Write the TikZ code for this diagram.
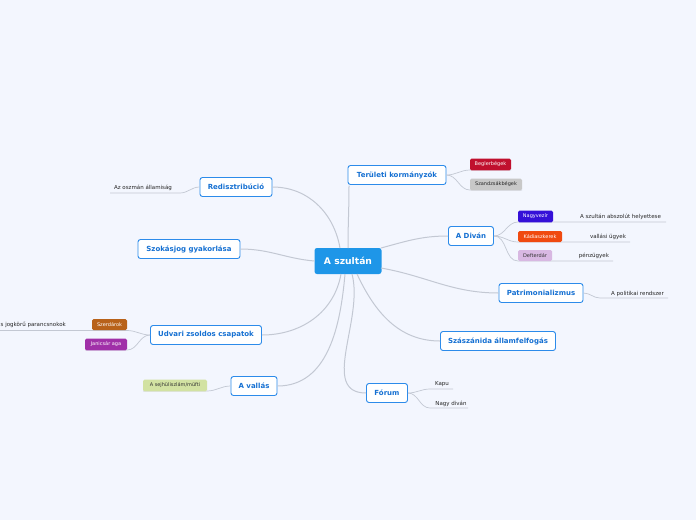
\documentclass[tikz,border=0pt]{standalone}
\usepackage{fontspec}
\setmainfont{DejaVu Sans}
\definecolor{bg}{HTML}{F3F6FE}
\definecolor{lcol}{HTML}{C3C8D3}
\definecolor{mblue}{HTML}{2C8BEA}
\definecolor{mtext}{HTML}{1570D2}
\definecolor{cfill}{HTML}{1E96E8}
\definecolor{cred}{HTML}{C0102E}
\definecolor{cgrey}{HTML}{C8C8C8}
\definecolor{cviol}{HTML}{3510D8}
\definecolor{corange}{HTML}{F04A10}
\definecolor{clil}{HTML}{D8B8E2}
\definecolor{cbrown}{HTML}{B8621A}
\definecolor{cmag}{HTML}{A030A8}
\definecolor{cgreen}{HTML}{D2E2A2}
\tikzset{
  mainbox/.style={draw=mblue, fill=white, rounded corners=2.5pt, line width=0.9pt, text=mtext,
    font=\bfseries\fontsize{7}{8}\selectfont, minimum height=19pt, inner xsep=1pt},
  centerbox/.style={fill=cfill, rounded corners=2.5pt, text=white,
    font=\bfseries\fontsize{9.2}{10}\selectfont, minimum height=26pt, minimum width=67pt},
  tagbox/.style={rounded corners=1.5pt, font=\fontsize{5}{6}\selectfont, minimum height=11pt, inner xsep=1pt, text=white},
  lbl/.style={font=\fontsize{5.5}{6}\selectfont, text=black!85, inner sep=0pt},
  conn/.style={draw=lcol, line width=1pt},
  subconn/.style={draw=lcol, line width=0.7pt},
}
\begin{document}
\begin{tikzpicture}[x=1pt,y=-1pt]
\fill[bg] (0,0) rectangle (696,520);
\useasboundingbox (0,0) rectangle (696,520);

% main nodes
\node[centerbox] (c) at (348,261) {A szultán};
\node[mainbox, minimum width=98pt] (ter) at (397,175) {Területi kormányzók};
\node[mainbox, minimum width=72pt] (red) at (236,187) {Redisztribúció};
\node[mainbox, minimum width=102pt] (szo) at (189,249) {Szokásjog gyakorlása};
\node[mainbox, minimum width=111pt] (udv) at (206,335) {Udvari zsoldos csapatok};
\node[mainbox, minimum width=46pt] (val) at (254,386) {A vallás};
\node[mainbox, minimum width=41pt] (for) at (387,393) {Fórum};
\node[mainbox, minimum width=115pt] (sza) at (498,341) {Szászánida államfelfogás};
\node[mainbox, minimum width=84pt] (pat) at (541,293) {Patrimonializmus};
\node[mainbox, minimum width=45pt] (div) at (471,236) {A Diván};

% connectors from center
\draw[conn] (348,248) to[out=90,in=-90] (349,185.5);
\draw[conn] (340,248) to[out=100,in=0] (red.east);
\draw[conn] (c.west) to[out=175,in=0] (szo.east);
\draw[conn] (341,274) to[out=-100,in=0] (udv.east);
\draw[conn] (345,274) to[out=-95,in=0] (val.east);
\draw[conn] (352,274) to[out=-75,in=180] (for.west);
\draw[conn] (357,274) to[out=-65,in=180] (sza.west);
\draw[conn] (381,268) to[out=-10,in=180] (pat.west);
\draw[conn] (381,248) to[out=15,in=180] (div.west);

% Területi kormányzók children
\coordinate (b1) at (470,170);
\coordinate (b2) at (470,190);
\draw[subconn] (ter.east) to[out=0,in=180] (b1) -- (511,170);
\draw[subconn] (ter.east) to[out=0,in=180] (b2) -- (522,190);
\node[tagbox, fill=cred, minimum width=41pt] (beg) at (490.5,164.5) {Beglerbégek};
\node[tagbox, fill=cgrey, text=black!85, minimum width=52pt] (szb) at (496,184.5) {Szandzsákbégek};

% Diván children
\coordinate (d1) at (518,222);
\coordinate (d2) at (518,242);
\coordinate (d3) at (518,261);
\coordinate (d1e) at (666,222);
\coordinate (d2e) at (630,242);
\coordinate (d3e) at (613,261);
\draw[subconn] (div.east) to[out=0,in=180] (d1) -- (553,222) -- (d1e);
\draw[subconn] (div.east) to[out=0,in=180] (d2) -- (d2e);
\draw[subconn] (div.east) to[out=0,in=180] (d3) -- (d3e);
\node[tagbox, fill=cviol, minimum width=35pt] (nv) at (535.5,216.5) {Nagyvezír};
\node[tagbox, fill=corange, minimum width=44pt] (kad) at (540,236.5) {Kádiaszkerek};
\node[tagbox, fill=clil, text=black!80, minimum width=34pt] (def) at (535,255.5) {Defterdár};
\node[lbl] (l1) at (620.5,217) {A szultán abszolút helyettese};
\node[lbl] (l2) at (608,236.5) {vallási ügyek};
\node[lbl] (l3) at (594,256) {pénzügyek};

% Patrimonializmus child
\coordinate (p1) at (600,298);
\coordinate (p1e) at (668,298);
\draw[subconn] (pat.east) to[out=0,in=180] (p1) -- (p1e);
\node[lbl] (l4) at (637.5,293.5) {A politikai rendszer};

% Fórum children
\coordinate (f1) at (430,389);
\coordinate (f1e) at (453,389);
\coordinate (f2) at (430,408);
\coordinate (f2e) at (468,408);
\draw[subconn] (for.east) to[out=0,in=180] (f1) -- (f1e);
\draw[subconn] (for.east) to[out=0,in=180] (f2) -- (f2e);
\node[lbl] (l5) at (442,384) {Kapu};
\node[lbl] (l6) at (451,403.5) {Nagy diván};

% Redisztribúció child
\coordinate (r1) at (180,193);
\coordinate (r1e) at (110,193);
\draw[subconn] (red.west) to[out=180,in=0] (r1) -- (r1e);
\node[lbl] (l7) at (143,188) {Az oszmán államiság};

% Udvari children
\coordinate (u1) at (127,330.5);
\coordinate (u1e) at (0,330.5);
\coordinate (u2) at (127,350);
\draw[subconn] (udv.west) to[out=180,in=0] (u1) -- (u1e);
\draw[subconn] (udv.west) to[out=180,in=0] (u2) -- (85,350);
\node[tagbox, fill=cbrown, minimum width=35pt] (sze) at (109.5,324.5) {Szerdárok};
\node[tagbox, fill=cmag, minimum width=42pt] (jan) at (106,344.5) {Janicsár aga};
\node[lbl, anchor=east] (l8) at (66,325) {s jogkörű parancsnokok};

% A vallás child
\coordinate (v1) at (207,391);
\draw[subconn] (val.west) to[out=180,in=0] (v1) -- (143,391);
\node[tagbox, fill=cgreen, text=black!80, minimum width=64pt] (sej) at (175,385.5) {A sejhüliszlám/müfti};
\end{tikzpicture}
\end{document}
